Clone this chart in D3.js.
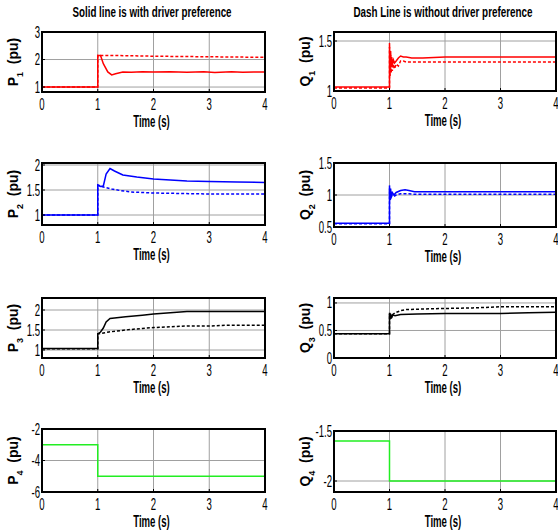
<!DOCTYPE html>
<html>
<head>
<meta charset="utf-8">
<script src="https://cdn.jsdelivr.net/npm/d3@7"></script>
<style>
  body { margin: 0; background: #fff; }
  .tick-label { font-family: "Liberation Sans", Arial, sans-serif; font-size: 16px; fill: #000; }
  .xlabel { font-family: "Liberation Sans", Arial, sans-serif; font-size: 16px; font-weight: bold; fill: #000; }
  .title { font-family: "Liberation Sans", Arial, sans-serif; font-size: 15px; font-weight: bold; fill: #000; }
  .ylabel { font-family: "Liberation Sans", Arial, sans-serif; font-size: 14px; font-weight: bold; fill: #000; }
  .grid line { stroke: #a0a0a0; stroke-width: 1; }
  .frame { fill: none; stroke: #000; stroke-width: 2; }
</style>
</head>
<body>
<div id="chart"></div>
<script>
// x ticks shared by every panel
var timeTicks = [0, 1, 2, 3, 4];

// P1 (red)
var p1SolidT = [0, 1, 1, 1.05, 1.1, 1.18, 1.25, 1.32, 1.45, 1.6, 1.8, 2, 2.3, 2.6, 2.9, 3.1, 3.4, 3.6, 3.8, 4];
var p1SolidV = [1, 1, 2.15, 2.15, 1.85, 1.55, 1.44, 1.48, 1.55, 1.54, 1.56, 1.55, 1.56, 1.54, 1.56, 1.53, 1.56, 1.54, 1.55, 1.55];
var p1DashT = [0, 1, 1, 1.5, 2, 2.5, 3, 3.5, 4];
var p1DashV = [1, 1, 2.15, 2.14, 2.12, 2.11, 2.1, 2.09, 2.08];

// Q1 (red)
var q1SolidT = [0, 1, 1, 1.01, 1.02, 1.03, 1.04, 1.05, 1.07, 1.09, 1.12, 1.16, 1.2, 1.25, 1.3, 1.4, 1.6, 2, 3, 4];
var q1SolidV = [1.04, 1.04, 1.48, 1.22, 1.4, 1.24, 1.34, 1.26, 1.31, 1.28, 1.3, 1.33, 1.35, 1.34, 1.34, 1.33, 1.33, 1.34, 1.34, 1.34];
var q1DashT = [0, 1, 1, 1.01, 1.02, 1.03, 1.04, 1.05, 1.07, 1.09, 1.12, 1.16, 1.2, 1.25, 1.3, 1.4, 1.6, 2, 3, 4];
var q1DashV = [1.03, 1.03, 1.44, 1.15, 1.36, 1.18, 1.3, 1.2, 1.27, 1.22, 1.27, 1.25, 1.3, 1.3, 1.29, 1.29, 1.29, 1.29, 1.29, 1.29];

// P2 (blue)
var p2SolidT = [0, 1, 1, 1.05, 1.1, 1.15, 1.22, 1.3, 1.45, 1.7, 2, 2.3, 2.6, 3, 3.5, 4];
var p2SolidV = [1, 1, 1.6, 1.57, 1.58, 1.82, 1.93, 1.88, 1.8, 1.76, 1.72, 1.7, 1.68, 1.67, 1.66, 1.65];
var p2DashT = [0, 1, 1, 1.1, 1.25, 1.4, 1.6, 2, 2.5, 3, 4];
var p2DashV = [1, 1, 1.6, 1.56, 1.52, 1.49, 1.46, 1.44, 1.43, 1.42, 1.42];

// Q2 (blue)
var q2SolidT = [0, 1, 1, 1.01, 1.02, 1.03, 1.05, 1.08, 1.12, 1.2, 1.28, 1.35, 1.45, 2, 3, 4];
var q2SolidV = [0.56, 0.56, 1.15, 0.95, 1.1, 0.98, 1.04, 1.0, 1.04, 1.07, 1.08, 1.07, 1.05, 1.05, 1.05, 1.05];
var q2DashT = [0, 1, 1, 1.01, 1.02, 1.03, 1.05, 1.08, 1.12, 1.2, 1.3, 1.5, 2, 3, 4];
var q2DashV = [0.55, 0.55, 1.1, 0.92, 1.04, 0.96, 1.0, 0.98, 1.0, 1.02, 1.02, 1.01, 1.01, 1.01, 1.01];

// P3 (black)
var p3SolidT = [0, 1, 1, 1.05, 1.1, 1.15, 1.22, 1.3, 1.5, 1.8, 2, 2.3, 2.6, 3, 3.5, 4];
var p3SolidV = [1.04, 1.04, 1.4, 1.45, 1.55, 1.7, 1.79, 1.8, 1.83, 1.87, 1.9, 1.93, 1.96, 1.96, 1.96, 1.96];
var p3DashT = [0, 1, 1, 1.2, 1.5, 1.8, 2, 2.3, 2.6, 3, 3.3, 3.6, 4];
var p3DashV = [1.03, 1.03, 1.4, 1.45, 1.5, 1.54, 1.56, 1.58, 1.6, 1.6, 1.62, 1.62, 1.62];

// Q3 (black)
var q3SolidT = [0, 1, 1, 1.01, 1.02, 1.04, 1.06, 1.1, 1.2, 1.5, 2, 2.5, 3, 3.5, 4];
var q3SolidV = [0.44, 0.44, 0.82, 0.72, 0.8, 0.74, 0.78, 0.77, 0.79, 0.8, 0.81, 0.81, 0.81, 0.82, 0.83];
var q3DashT = [0, 1, 1, 1.01, 1.02, 1.04, 1.06, 1.1, 1.2, 1.3, 1.6, 2, 2.5, 3, 3.5, 4];
var q3DashV = [0.44, 0.44, 0.8, 0.7, 0.78, 0.74, 0.79, 0.82, 0.86, 0.88, 0.89, 0.9, 0.91, 0.93, 0.93, 0.93];

// P4 / Q4 (green, both cases overlap)
var p4T = [0, 1, 1, 4];
var p4V = [-3, -3, -5, -5];
var q4T = [0, 1, 1, 4];
var q4V = [-1.6, -1.6, -2, -2];

// y ticks per panel
var p1Ticks = [1, 2, 3], q1Ticks = [1, 1.5];
var p2Ticks = [1, 1.5, 2], q2Ticks = [0.5, 1, 1.5];
var p3Ticks = [1, 1.5, 2], q3Ticks = [0, 0.5, 1];
var p4Ticks = [-6, -4, -2], q4Ticks = [-2, -1.5];

var titles = ["Solid line is with driver preference", "Dash Line is without driver preference"];

var width = 558, height = 531;
var svg = d3.select("#chart").append("svg")
  .attr("width", width)
  .attr("height", height);

var zip = function (t, v) { return t.map(function (d, i) { return [d, v[i]]; }); };

// no narrow font installed, so squeeze horizontally
var NARROW = 0.6;
var place = function (px, py) {
  return "translate(" + px + "," + py + ") scale(" + NARROW + ",1)";
};

var panels = [
  { name: "P", idx: "1", col: 0, top: 32, bottom: 92, domain: [0.82, 3], ticks: p1Ticks, color: "#ff0000",
    solid: zip(p1SolidT, p1SolidV), dash: zip(p1DashT, p1DashV) },
  { name: "Q", idx: "1", col: 1, top: 32, bottom: 91, domain: [1, 1.59], ticks: q1Ticks, color: "#ff0000",
    solid: zip(q1SolidT, q1SolidV), dash: zip(q1DashT, q1DashV) },
  { name: "P", idx: "2", col: 0, top: 163, bottom: 225, domain: [0.8, 2.04], ticks: p2Ticks, color: "#0000ff",
    solid: zip(p2SolidT, p2SolidV), dash: zip(p2DashT, p2DashV) },
  { name: "Q", idx: "2", col: 1, top: 163, bottom: 227, domain: [0.5, 1.5], ticks: q2Ticks, color: "#0000ff",
    solid: zip(q2SolidT, q2SolidV), dash: zip(q2DashT, q2DashV) },
  { name: "P", idx: "3", col: 0, top: 298, bottom: 358, domain: [0.8, 2.3], ticks: p3Ticks, color: "#000000",
    solid: zip(p3SolidT, p3SolidV), dash: zip(p3DashT, p3DashV) },
  { name: "Q", idx: "3", col: 1, top: 298, bottom: 358, domain: [0, 1.09], ticks: q3Ticks, color: "#000000",
    solid: zip(q3SolidT, q3SolidV), dash: zip(q3DashT, q3DashV) },
  { name: "P", idx: "4", col: 0, top: 429, bottom: 492, domain: [-6, -2], ticks: p4Ticks, color: "#22ee22",
    solid: zip(p4T, p4V), dash: null },
  { name: "Q", idx: "4", col: 1, top: 431, bottom: 492, domain: [-2.11, -1.5], ticks: q4Ticks, color: "#22ee22",
    solid: zip(q4T, q4V), dash: null }
];

var colX = [[42, 265], [334, 556]];

panels.forEach(function (p) {
  var x = d3.scaleLinear().domain([0, 4]).range(colX[p.col]);
  var y = d3.scaleLinear().domain(p.domain).range([p.bottom, p.top]);
  var g = svg.append("g");

  // grid
  var grid = g.append("g").attr("class", "grid");
  grid.selectAll(".gx").data(timeTicks.slice(1, -1)).enter().append("line")
    .attr("x1", x).attr("x2", x).attr("y1", p.top).attr("y2", p.bottom);
  grid.selectAll(".gy").data(p.ticks.filter(function (d) { return y(d) < p.bottom - 1 && y(d) > p.top + 1; }))
    .enter().append("line")
    .attr("x1", x.range()[0]).attr("x2", x.range()[1]).attr("y1", y).attr("y2", y);

  var line = d3.line().x(function (d) { return x(d[0]); }).y(function (d) { return y(d[1]); });

  if (p.dash) {
    g.append("path").datum(p.dash)
      .attr("d", line).attr("fill", "none").attr("stroke", p.color)
      .attr("stroke-width", 1.5).attr("stroke-dasharray", "3,2");
  }
  g.append("path").datum(p.solid)
    .attr("d", line).attr("fill", "none").attr("stroke", p.color).attr("stroke-width", 1.5);

  // frame
  g.append("rect").attr("class", "frame")
    .attr("x", x.range()[0]).attr("y", p.top)
    .attr("width", x.range()[1] - x.range()[0]).attr("height", p.bottom - p.top);

  // tick marks inside
  g.selectAll(".tx").data(timeTicks).enter().append("line")
    .attr("x1", x).attr("x2", x).attr("y1", p.bottom).attr("y2", p.bottom - 3).attr("stroke", "#000");
  g.selectAll(".ty").data(p.ticks).enter().append("line")
    .attr("x1", x.range()[0]).attr("x2", x.range()[0] + 3).attr("y1", y).attr("y2", y).attr("stroke", "#000");

  // tick labels
  g.selectAll(".xl").data(timeTicks).enter().append("text")
    .attr("class", "tick-label")
    .attr("transform", function (d) { return place(x(d), p.bottom + 18); })
    .attr("text-anchor", "middle")
    .text(function (d) { return d; });
  g.selectAll(".yl").data(p.ticks).enter().append("text")
    .attr("class", "tick-label")
    .attr("transform", function (d) { return place(x.range()[0] - 2, y(d) + 5.5); })
    .attr("text-anchor", "end")
    .text(function (d) { return d; });

  g.append("text").attr("class", "xlabel")
    .attr("transform", place((x.range()[0] + x.range()[1]) / 2 - 2, p.bottom + 35))
    .attr("text-anchor", "middle")
    .text("Time (s)");

  var ly = g.append("text").attr("class", "ylabel")
    .attr("transform", "translate(" + (x.range()[0] - 24) + "," + ((p.top + p.bottom) / 2) + ") rotate(-90)")
    .attr("text-anchor", "middle");
  ly.append("tspan").text(p.name);
  ly.append("tspan").attr("baseline-shift", "sub").attr("font-size", "9px").text(p.idx);
  ly.append("tspan").text("\u00a0 (pu)");
});

svg.selectAll(".title").data(titles).enter().append("text")
  .attr("class", "title")
  .attr("x", function (d, i) { return i === 0 ? 152 : 443; })
  .attr("y", 17)
  .attr("text-anchor", "middle")
  .attr("textLength", function (d, i) { return i === 0 ? 159 : 179; })
  .attr("lengthAdjust", "spacingAndGlyphs")
  .text(function (d) { return d; });
</script>
</body>
</html>
